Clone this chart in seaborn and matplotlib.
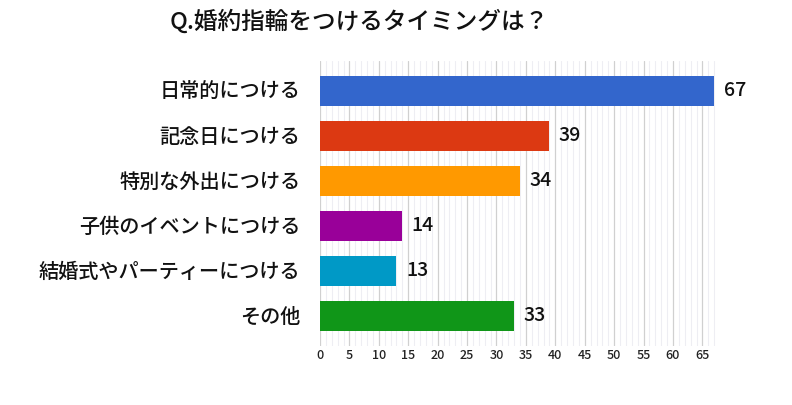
import matplotlib
matplotlib.use("Agg")
import matplotlib.pyplot as plt
import seaborn as sns
import pandas as pd
from matplotlib.ticker import MultipleLocator

categorias = ["日常的につける", "記念日につける", "特別な外出につける",
              "子供のイベントにつける", "結婚式やパーティーにつける", "その他"]
valores = [67, 39, 34, 14, 13, 33]
cores = ["#3366CC", "#DC3912", "#FF9900", "#990099", "#0099C6", "#109618"]
titulo = "Q.婚約指輪をつけるタイミングは？"

df = pd.DataFrame({"cat": categorias, "val": valores})

sns.set_style("white")
plt.rcParams['font.family'] = ['Noto Sans CJK JP', 'DejaVu Sans']
plt.rcParams['font.weight'] = 500

fig = plt.figure(figsize=(7.92, 4.05), dpi=100)
ax = fig.add_axes([0.404, 0.146, 0.5, 0.704])

sns.barplot(data=df, x="val", y="cat", hue="cat", palette=cores,
            legend=False, width=0.67, ax=ax, saturation=1, zorder=3,
            linewidth=0)

ax.set_xlim(0, 67.3)
ax.set_ylim(5.67, -0.67)
ax.xaxis.set_major_locator(MultipleLocator(5))
ax.xaxis.set_minor_locator(MultipleLocator(1))
ax.grid(which="minor", axis="x", color="#eeeef3", linewidth=0.8, zorder=0)
ax.grid(which="major", axis="x", color="#d0d0d0", linewidth=0.9, zorder=1)
ax.set_axisbelow(True)
for s in ax.spines.values():
    s.set_visible(False)
ax.tick_params(axis="x", which="both", length=0, labelsize=9, pad=2, colors="#222222")
ax.tick_params(axis="y", length=0, labelsize=14.5, pad=14, colors="#111111")
ax.set_xlabel("")
ax.set_ylabel("")

for i, v in enumerate(valores):
    ax.text(v + 1.6, i, str(v), va="center", ha="left", fontsize=14, color="#111111")

fig.text(170 / 792, 1 - 22 / 405, titulo, fontsize=17, ha="left", va="center",
         color="#111111")

fig.savefig("out.png", dpi=100)
